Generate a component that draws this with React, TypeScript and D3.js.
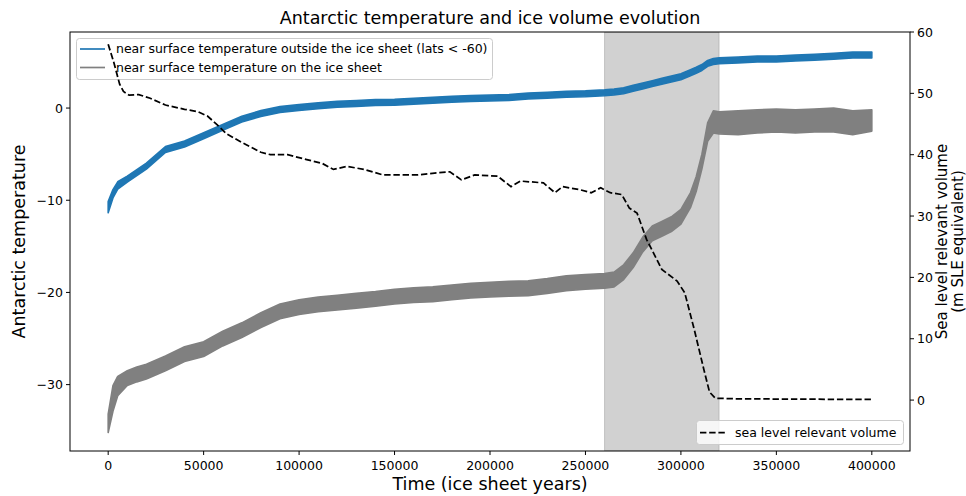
import React from "react";
import * as d3 from "d3";

// ---- data ----
const tempTimes = [0, 2500, 5000, 10000, 15000, 20000, 30000, 40000, 50000, 60000, 70000, 80000, 90000, 100000, 110000, 120000, 130000, 140000, 150000, 160000, 170000, 180000, 190000, 200000, 210000, 220000, 230000, 240000, 250000, 260000, 265000, 270000, 275000, 280000, 285000, 290000, 295000, 300000, 305000, 308000, 311000, 314000, 317000, 320000, 330000, 340000, 350000, 360000, 370000, 380000, 390000, 400000];

// near surface temperature outside the ice sheet (lats < -60): lower / upper envelope
const outsideLo = [-11.35, -9.75, -8.8, -8.02, -7.32, -6.62, -4.82, -4.22, -3.32, -2.42, -1.52, -0.92, -0.47, -0.27, -0.07, 0.08, 0.18, 0.28, 0.31, 0.43, 0.53, 0.63, 0.71, 0.76, 0.83, 0.98, 1.08, 1.18, 1.23, 1.33, 1.43, 1.56, 1.83, 2.08, 2.33, 2.58, 2.83, 3.08, 3.51, 3.78, 4.08, 4.53, 4.73, 4.8, 4.9, 5.0, 5.0, 5.1, 5.2, 5.3, 5.43, 5.43];
const outsideHi = [-10.15, -8.85, -8.0, -7.38, -6.68, -5.98, -4.18, -3.58, -2.68, -1.78, -0.88, -0.28, 0.17, 0.37, 0.57, 0.72, 0.82, 0.92, 0.95, 1.07, 1.17, 1.27, 1.35, 1.4, 1.47, 1.62, 1.72, 1.82, 1.87, 1.97, 2.07, 2.2, 2.47, 2.72, 2.97, 3.22, 3.47, 3.72, 4.15, 4.42, 4.72, 5.17, 5.37, 5.44, 5.54, 5.64, 5.64, 5.74, 5.84, 5.94, 6.07, 6.07];

// near surface temperature on the ice sheet: lower / upper envelope
const iceLo = [-35.2, -32.9, -31.2, -30.1, -29.7, -29.4, -28.5, -27.5, -26.95, -25.8, -24.9, -23.8, -22.85, -22.4, -22.1, -21.9, -21.7, -21.5, -21.25, -21.1, -21.0, -20.8, -20.6, -20.5, -20.4, -20.35, -20.1, -19.8, -19.65, -19.55, -19.4, -18.6, -17.3, -15.6, -14.4, -13.9, -13.4, -12.6, -10.8, -9.05, -6.6, -3.6, -2.7, -2.8, -2.9, -2.7, -2.6, -2.7, -2.6, -2.6, -2.9, -2.5];
const iceHi = [-33.2, -30.1, -29.1, -28.5, -28.1, -27.8, -26.9, -25.9, -25.35, -24.2, -23.3, -22.2, -21.25, -20.8, -20.5, -20.3, -20.1, -19.9, -19.65, -19.5, -19.4, -19.2, -19.0, -18.9, -18.8, -18.75, -18.5, -18.2, -18.05, -17.95, -17.8, -17.0, -15.7, -14.0, -12.8, -12.3, -11.8, -11.0, -9.2, -7.45, -5.0, -1.6, -0.3, -0.4, -0.3, -0.2, -0.1, -0.2, -0.1, 0.0, -0.3, -0.2];

// sea level relevant volume (m SLE)
const volTimes = [0, 3000, 6000, 8000, 11000, 16000, 22000, 30000, 40000, 47000, 52000, 57000, 62000, 70000, 80000, 85000, 94000, 104000, 112000, 118000, 125000, 134000, 144000, 155000, 162000, 171000, 179000, 185000, 192000, 204000, 211000, 216000, 228000, 234000, 238000, 247000, 253000, 258000, 263000, 269000, 273000, 277000, 282000, 290000, 298000, 302000, 307000, 312000, 315000, 318000, 330000, 400000];
const volValues = [58.0, 55.0, 51.5, 50.3, 49.7, 49.8, 49.2, 48.1, 47.4, 47.0, 46.3, 44.9, 43.4, 42.0, 40.4, 40.0, 40.0, 39.2, 38.6, 37.6, 38.1, 37.6, 36.7, 36.7, 36.7, 37.0, 37.2, 35.9, 36.7, 36.5, 34.8, 35.7, 35.4, 33.8, 34.8, 34.3, 33.8, 34.6, 33.8, 33.5, 31.3, 30.5, 26.2, 21.3, 19.4, 17.5, 11.5, 5.0, 1.3, 0.3, 0.2, 0.1];

const shadedSpan = [260000, 320000];
const xTicks = [0, 50000, 100000, 150000, 200000, 250000, 300000, 350000, 400000];
const yLeftTicks = [-30, -20, -10, 0];
const yRightTicks = [0, 10, 20, 30, 40, 50, 60];

const W = 966, H = 496;
const L = 70, R = 910, T = 32, B = 451;
const FONT = "DejaVu Sans, sans-serif";
const BLUE = "#1f77b4";
const GRAY = "#808080";

export default function App() {
  const x = d3.scaleLinear().domain([-20000, 420000]).range([L, R]);
  const yL = d3.scaleLinear().domain([-37.2, 8.25]).range([B, T]);
  const yR = d3.scaleLinear().domain([-8.3, 60]).range([B, T]);

  const idx = tempTimes.map((_, i) => i);
  const outsideArea = d3.area<number>()
    .x((i) => x(tempTimes[i]))
    .y0((i) => yL(outsideLo[i]))
    .y1((i) => yL(outsideHi[i]))(idx) || "";
  const iceArea = d3.area<number>()
    .x((i) => x(tempTimes[i]))
    .y0((i) => yL(iceLo[i]))
    .y1((i) => yL(iceHi[i]))(idx) || "";
  const volLine = d3.line<number>()
    .x((i) => x(volTimes[i]))
    .y((i) => yR(volValues[i]))(volTimes.map((_, i) => i)) || "";

  const fmt = (v: number) => (v < 0 ? "\u2212" + Math.abs(v) : String(v));

  return (
    <svg width={W} height={H} style={{ position: "absolute", left: 0, top: 0 }} fontFamily={FONT}>
      <defs>
        <clipPath id="plot">
          <rect x={L} y={T} width={R - L} height={B - T} />
        </clipPath>
      </defs>
      <rect x={0} y={0} width={W} height={H} fill="#fff" />
      <g clipPath="url(#plot)">
        <rect x={x(shadedSpan[0])} y={T} width={x(shadedSpan[1]) - x(shadedSpan[0])} height={B - T}
          fill={GRAY} fillOpacity={0.36} stroke={GRAY} strokeOpacity={0.36} strokeWidth={1} />
        <path d={outsideArea} fill={BLUE} stroke={BLUE} strokeWidth={1.6} strokeLinejoin="round" />
        <path d={iceArea} fill={GRAY} stroke={GRAY} strokeWidth={1.6} strokeLinejoin="round" />
      </g>
      {/* legend of left axis */}
      <g>
        <rect x={76.5} y={38.5} width={416} height={41} rx={3} fill="#fff" fillOpacity={0.8} stroke="#cccccc" strokeWidth={1} />
        <line x1={80} x2={105} y1={49} y2={49} stroke={BLUE} strokeWidth={1.7} />
        <text x={116} y={53.4} fontSize={12.5} fill="#000">near surface temperature outside the ice sheet (lats &lt; -60)</text>
        <line x1={80} x2={105} y1={67.5} y2={67.5} stroke={GRAY} strokeWidth={1.7} />
        <text x={116} y={71.9} fontSize={12.5} fill="#000">near surface temperature on the ice sheet</text>
      </g>
      <g clipPath="url(#plot)">
        <path d={volLine} fill="none" stroke="#000" strokeWidth={1.75} strokeDasharray="6.4,2.8" />
      </g>
      {/* legend of right axis */}
      <g>
        <rect x={696.5} y={420.5} width={207} height={24} rx={3} fill="#fff" fillOpacity={0.8} stroke="#cccccc" strokeWidth={1} />
        <line x1={700} x2={725} y1={432.5} y2={432.5} stroke="#000" strokeWidth={1.75} strokeDasharray="6.4,2.8" />
        <text x={735} y={436.9} fontSize={12.5} fill="#000">sea level relevant volume</text>
      </g>
      {/* spines */}
      <rect x={L} y={T} width={R - L} height={B - T} fill="none" stroke="#000" strokeWidth={1} />
      {/* x axis */}
      {xTicks.map((t) => (
        <g key={"x" + t}>
          <line x1={x(t)} x2={x(t)} y1={B} y2={B + 4} stroke="#000" strokeWidth={1} />
          <text x={x(t)} y={B + 18.5} fontSize={12.5} textAnchor="middle" fill="#000">{t}</text>
        </g>
      ))}
      {yLeftTicks.map((t) => (
        <g key={"yl" + t}>
          <line x1={L - 4} x2={L} y1={yL(t)} y2={yL(t)} stroke="#000" strokeWidth={1} />
          <text x={L - 7} y={yL(t) + 4.5} fontSize={12.5} textAnchor="end" fill="#000">{fmt(t)}</text>
        </g>
      ))}
      {yRightTicks.map((t) => (
        <g key={"yr" + t}>
          <line x1={R} x2={R + 4} y1={yR(t)} y2={yR(t)} stroke="#000" strokeWidth={1} />
          <text x={R + 7} y={yR(t) + 4.5} fontSize={12.5} textAnchor="start" fill="#000">{fmt(t)}</text>
        </g>
      ))}
      <text x={(L + R) / 2} y={24} fontSize={17.5} textAnchor="middle" fill="#000">Antarctic temperature and ice volume evolution</text>
      <text x={(L + R) / 2} y={490} fontSize={17.5} textAnchor="middle" fill="#000">Time (ice sheet years)</text>
      <text transform={`translate(25,${(T + B) / 2}) rotate(-90)`} fontSize={17.5} textAnchor="middle" fill="#000">Antarctic temperature</text>
      <text transform={`translate(947,${(T + B) / 2}) rotate(-90)`} fontSize={15} textAnchor="middle" fill="#000">Sea level relevant volume</text>
      <text transform={`translate(963,${(T + B) / 2}) rotate(-90)`} fontSize={15} textAnchor="middle" fill="#000">(m SLE equivalent)</text>
    </svg>
  );
}
